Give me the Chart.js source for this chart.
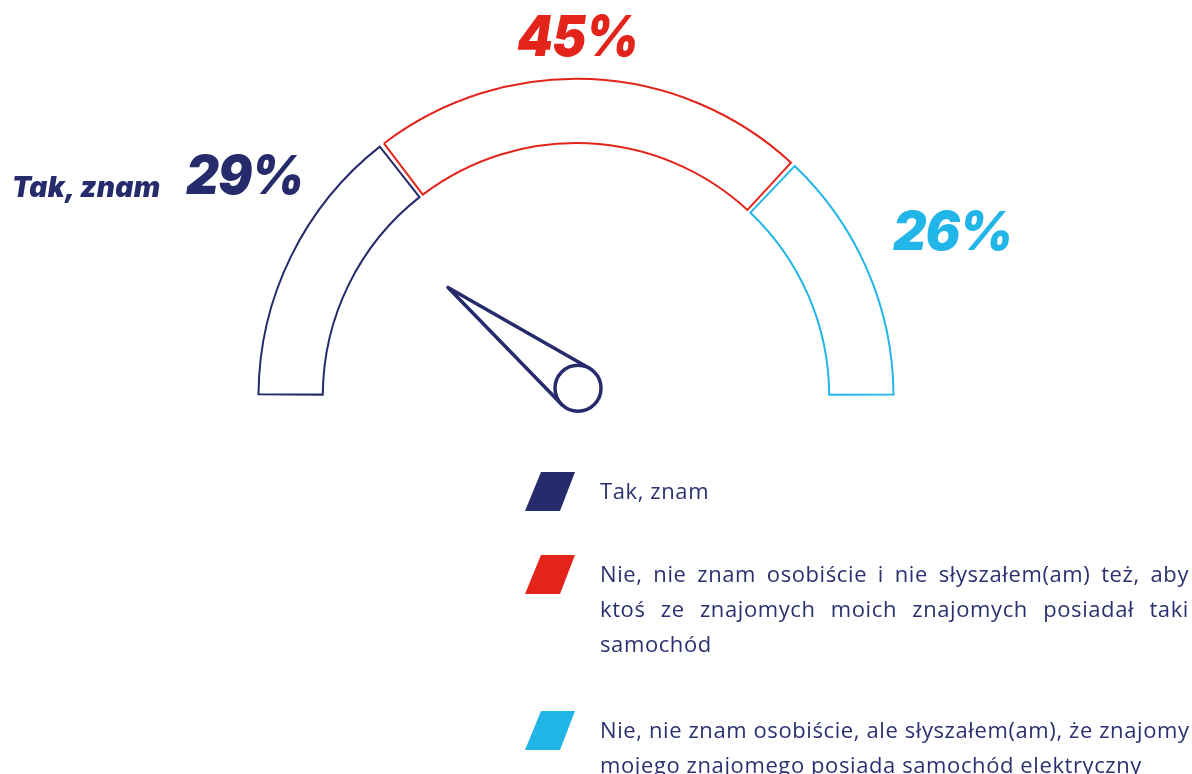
<!DOCTYPE html>
<html lang="pl">
<head>
<meta charset="utf-8">
<title>Samochód elektryczny - znajomi</title>
<script src="https://cdn.jsdelivr.net/npm/chart.js@4.4.1/dist/chart.umd.min.js"></script>
<style>
  html, body { margin: 0; padding: 0; background: #fff; width: 1192px; height: 774px; overflow: hidden; }
  #wrap { position: relative; width: 1192px; height: 774px; }
  #gauge { position: absolute; left: 0; top: 0; }
  .pct {
    position: absolute; font-family: Inter, sans-serif; font-style: italic;
    font-weight: 900; line-height: 1; white-space: nowrap; letter-spacing: -1px;
    transform-origin: 0 0;
  }
  .legend-item { position: absolute; left: 525px; width: 664px; }
  .swatch {
    position: absolute; left: 0; top: 0; width: 50px; height: 39px;
    clip-path: polygon(16px 0, 50px 0, 35px 39px, 0 39px);
  }
  .legend-text {
    position: absolute; left: 75px; top: 0; width: 589px;
    font-family: "Open Sans", sans-serif; font-size: 22px; line-height: 35px;
    letter-spacing: 0.6px; color: #2b3170; font-weight: 400;
  }
  .legend-text div { white-space: nowrap; }
  .legend-text span { white-space: nowrap; }
</style>
</head>
<body>
<div id="wrap">
  <canvas id="gauge" width="1192" height="774"></canvas>
  <div id="labels"></div>
  <div id="legend"></div>
</div>
<script>
// dane
const shortLabels = ["Tak, znam", "Nie", "Nie, ale słyszałem(am)"];
const legendLines = [
  ["Tak, znam"],
  ["Nie, nie znam osobiście i nie słyszałem(am) też, aby",
   "ktoś ze znajomych moich znajomych posiadał taki",
   "samochód"],
  ["Nie, nie znam osobiście, ale słyszałem(am), że znajomy",
   "mojego znajomego posiada samochód elektryczny"]
];
const categories = legendLines.map(l => l.join(" "));
const values = [29, 45, 26];
const colors = ["#252b6b", "#e3241b", "#22b5e8"];
const needleValue = 21;

// pozycje etykiet (bez danych)
const pctPos = [
  { left: 186, top: 149, size: 53, sx: 0.96 },
  { left: 517, top: 7, size: 57, sx: 0.9 },
  { left: 893, top: 205, size: 53, sx: 0.975 }
];
const legendTops = [472, 555, 711];
const legendWidth = 589;

const needlePlugin = {
  id: "needle",
  afterDatasetsDraw(chart) {
    const arc = chart.getDatasetMeta(0).data[0];
    const ctx = chart.ctx;
    const hx = arc.x + 2, hy = arc.y - 8;
    const r = 23;
    const len = arc.innerRadius * 0.66;
    const ang = Math.PI + (needleValue / 100) * Math.PI;
    const tx = hx + Math.cos(ang) * len, ty = hy + Math.sin(ang) * len;
    const th = Math.acos(r / len);
    const p1 = [hx + r * Math.cos(ang + th), hy + r * Math.sin(ang + th)];
    const p2 = [hx + r * Math.cos(ang - th), hy + r * Math.sin(ang - th)];
    ctx.save();
    ctx.strokeStyle = colors[0];
    ctx.lineWidth = 3.5;
    ctx.lineJoin = "round";
    ctx.lineCap = "round";
    ctx.beginPath();
    ctx.moveTo(p1[0], p1[1]);
    ctx.lineTo(tx, ty);
    ctx.lineTo(p2[0], p2[1]);
    ctx.stroke();
    ctx.beginPath();
    ctx.arc(hx, hy, r, 0, Math.PI * 2);
    ctx.fillStyle = "#fff";
    ctx.fill();
    ctx.stroke();
    ctx.restore();
  }
};

new Chart(document.getElementById("gauge"), {
  type: "doughnut",
  data: {
    labels: categories,
    datasets: [{
      data: values,
      backgroundColor: "#ffffff",
      borderColor: colors,
      borderWidth: 2,
      borderJoinStyle: "miter",
      spacing: 8
    }]
  },
  options: {
    responsive: false,
    animation: false,
    events: [],
    rotation: -90,
    circumference: 180,
    cutout: "79.5%",
    radius: 313.5,
    layout: { padding: { left: 246, right: 286, top: 74, bottom: 369 } },
    plugins: { legend: { display: false }, tooltip: { enabled: false } }
  },
  plugins: [needlePlugin]
});

// etykiety procentowe
const labelsEl = document.getElementById("labels");
values.forEach((v, i) => {
  const d = document.createElement("div");
  d.className = "pct";
  d.style.left = pctPos[i].left + "px";
  d.style.top = pctPos[i].top + "px";
  d.style.fontSize = pctPos[i].size + "px";
  d.style.transform = "scaleX(" + pctPos[i].sx + ")";
  d.style.color = colors[i];
  d.textContent = v + "%";
  labelsEl.appendChild(d);
});
const tak = document.createElement("div");
tak.className = "pct";
tak.style.cssText = "left:12px;top:173px;font-size:28px;letter-spacing:0.3px;color:" + colors[0];
tak.textContent = shortLabels[0];
labelsEl.appendChild(tak);

// legenda (wyjustowane linie - odstępy między słowami liczone z szerokości)
const legendEl = document.getElementById("legend");
legendLines.forEach((lines, i) => {
  const item = document.createElement("div");
  item.className = "legend-item";
  item.style.top = legendTops[i] + "px";
  const sw = document.createElement("div");
  sw.className = "swatch";
  sw.style.background = colors[i];
  item.appendChild(sw);
  const txt = document.createElement("div");
  txt.className = "legend-text";
  txt.style.top = "1px";
  item.appendChild(txt);
  legendEl.appendChild(item);
  lines.forEach((line, j) => {
    const ln = document.createElement("div");
    const sp = document.createElement("span");
    sp.textContent = line;
    ln.appendChild(sp);
    txt.appendChild(ln);
    if (j < lines.length - 1) {
      const gaps = line.split(" ").length - 1;
      const extra = legendWidth - sp.getBoundingClientRect().width;
      if (gaps > 0 && extra > 0) sp.style.wordSpacing = (extra / gaps) + "px";
    }
  });
});
</script>
</body>
</html>
